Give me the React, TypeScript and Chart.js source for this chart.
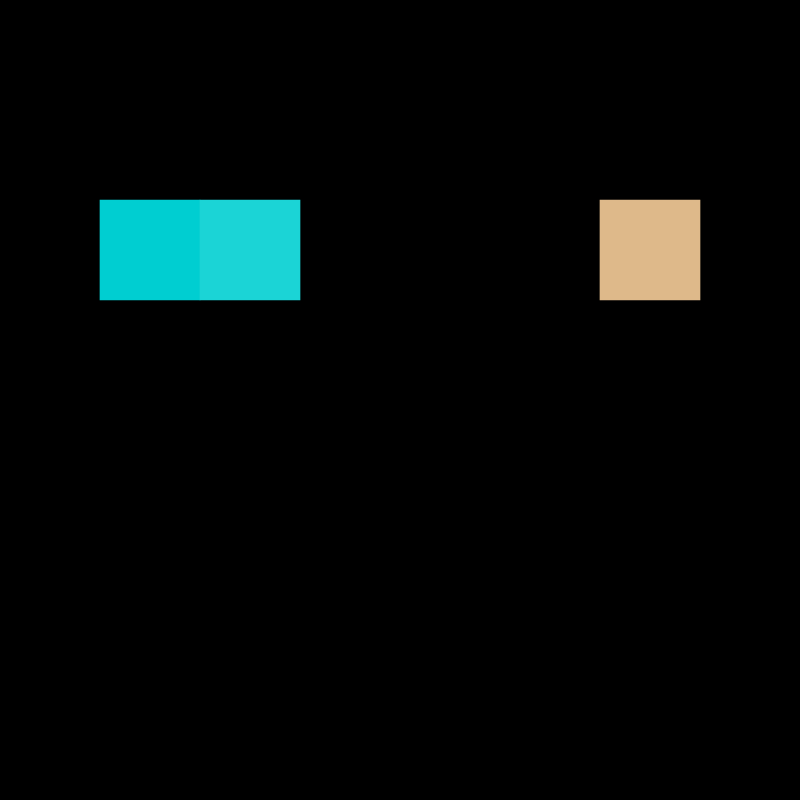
import { useEffect, useRef } from 'react';
import Chart from 'chart.js/auto';

// 8x8 grid, only three cells are filled (all in row 2)
const gridRows = ['0', '1', '2', '3', '4', '5', '6', '7'];
const cellRows = ['2', '2', '2'];
const cellCols = [1, 2, 6];
const cellColors = ['#00CED1', '#1BD4D6', '#DEB98A'];

const App = () => {
  const chartRef = useRef<HTMLCanvasElement>(null);

  useEffect(() => {
    document.body.style.margin = '0';
    let chart: Chart | undefined;
    if (chartRef.current) {
      chart = new Chart(chartRef.current, {
        type: 'bar',
        data: {
          labels: gridRows,
          datasets: [
            {
              data: cellCols.map((c, i) => ({ y: cellRows[i], x: [c, c + 1] })) as any,
              backgroundColor: cellColors,
              borderWidth: 0,
              borderSkipped: false,
              barPercentage: 1,
              categoryPercentage: 1,
              grouped: false,
            },
          ],
        },
        options: {
          indexAxis: 'y',
          animation: false,
          responsive: true,
          maintainAspectRatio: false,
          layout: { padding: 0 },
          plugins: {
            legend: { display: false },
            tooltip: { enabled: false },
          },
          scales: {
            x: { type: 'linear', min: 0, max: 8, display: false },
            y: { type: 'category', display: false, offset: true },
          },
        },
      });
    }
    return () => {
      chart?.destroy();
    };
  }, []);

  return (
    <div style={{ position: 'fixed', left: 0, top: 0, width: 800, height: 800, background: '#000' }}>
      <canvas ref={chartRef}></canvas>
    </div>
  );
};

export default App;
